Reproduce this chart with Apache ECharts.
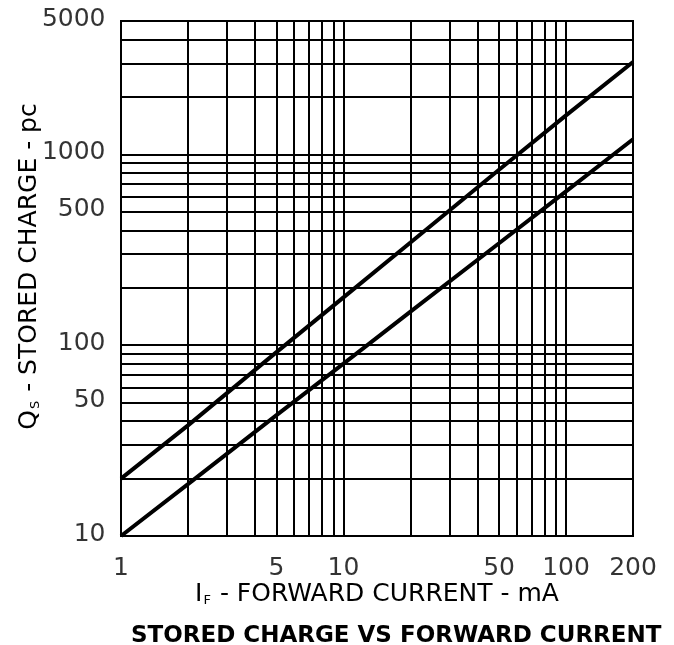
<!DOCTYPE html>
<html><head><meta charset="utf-8">
<script src="https://cdn.jsdelivr.net/npm/echarts@6/dist/echarts.min.js"></script>
<style>html,body{margin:0;padding:0;background:#fff}#c{width:674px;height:645px}</style>
</head><body><div id="c"></div>
<script>
// Data (log-log plot)
const currentMA = [1, 2, 5, 10, 20, 50, 100, 200];
const chargeUpper = [20, 38, 92, 178, 345, 830, 1600, 3050];
const chargeLower = [10, 18.7, 43, 80, 150, 342, 640, 1200];
const xTickLabels = [1, 5, 10, 50, 100, 200];
const yTickLabels = [10, 50, 100, 500, 1000, 5000];
const xGridValues = [2, 3, 4, 5, 6, 7, 8, 9, 10, 20, 30, 40, 50, 60, 70, 80, 90, 100];
const yGridValues = [20, 30, 40, 50, 60, 70, 80, 90, 100, 200, 300, 400, 500, 600, 700, 800, 900, 1000, 2000, 3000, 4000];
const xMin = 1, xMax = 200, yMin = 10, yMax = 5000;

const FONT = 'DejaVu Sans';
const chart = echarts.init(document.getElementById('c'), null, {renderer: 'canvas'});

const gridMarks = xGridValues.map(v => ({xAxis: v})).concat(yGridValues.map(v => ({yAxis: v})));
const subStyle = {fontFamily: FONT, fontSize: 13, color: '#000', verticalAlign: 'bottom', padding: [12, 1, 0, 1]};
const mainStyle = {fontFamily: FONT, fontSize: 25, color: '#000'};

chart.setOption({
  animation: false,
  backgroundColor: '#fff',
  title: {
    text: 'STORED CHARGE VS FORWARD CURRENT',
    left: 131, top: 625, padding: 0,
    textStyle: {fontFamily: FONT, fontWeight: 'bold', fontSize: 23, color: '#000'}
  },
  grid: {left: 121, top: 21, right: 41, bottom: 109, show: true, borderColor: '#000', borderWidth: 2, backgroundColor: 'transparent'},
  xAxis: {
    type: 'log', logBase: 10, min: xMin, max: xMax,
    axisLine: {show: true, lineStyle: {color: '#000', width: 2}},
    axisTick: {show: false}, axisLabel: {show: false}, splitLine: {show: false},
    name: '{a|I}{s|F}{a| - FORWARD CURRENT - mA}',
    nameLocation: 'middle', nameGap: 46,
    nameTextStyle: {fontFamily: FONT, fontSize: 25, color: '#000', rich: {a: mainStyle, s: subStyle}}
  },
  yAxis: {
    type: 'log', logBase: 10, min: yMin, max: yMax,
    axisLine: {show: true, lineStyle: {color: '#000', width: 2}},
    axisTick: {show: false}, axisLabel: {show: false}, splitLine: {show: false},
    name: '{a|Q}{s|S}{a| - STORED CHARGE - pc}',
    nameLocation: 'middle', nameGap: 79,
    nameTextStyle: {fontFamily: FONT, fontSize: 25, color: '#000', padding: [0, 0, 0, 24], rich: {a: mainStyle, s: subStyle}}
  },
  series: [
    {
      name: 'grid', type: 'line', data: [], silent: true,
      markLine: {
        silent: true, symbol: ['none', 'none'], label: {show: false},
        lineStyle: {color: '#000', width: 2, type: 'solid'},
        emphasis: {disabled: true},
        data: gridMarks
      }
    },
    {
      name: 'upper', type: 'line', showSymbol: false, symbol: 'none',
      data: currentMA.map((x, i) => [x, chargeUpper[i]]),
      lineStyle: {color: '#000', width: 4}, z: 5
    },
    {
      name: 'lower', type: 'line', showSymbol: false, symbol: 'none',
      data: currentMA.map((x, i) => [x, chargeLower[i]]),
      lineStyle: {color: '#000', width: 4}, z: 5
    },
    {
      name: 'xlabels', type: 'scatter', clip: false, silent: true,
      symbolSize: 1, itemStyle: {color: 'rgba(0,0,0,0)'},
      data: xTickLabels.map(v => [v, yMin]),
      label: {show: true, position: 'bottom', distance: 19, formatter: p => String(p.value[0]),
              fontFamily: FONT, fontSize: 25, color: '#000000'}
    },
    {
      name: 'ylabels', type: 'scatter', clip: false, silent: true,
      symbolSize: 1, itemStyle: {color: 'rgba(0,0,0,0)'},
      data: yTickLabels.map(v => [xMin, v]),
      label: {show: true, position: 'left', distance: 15, formatter: p => String(p.value[1]),
              fontFamily: FONT, fontSize: 25, color: '#000000', offset: [0, -2]}
    }
  ]
});
</script></body></html>
